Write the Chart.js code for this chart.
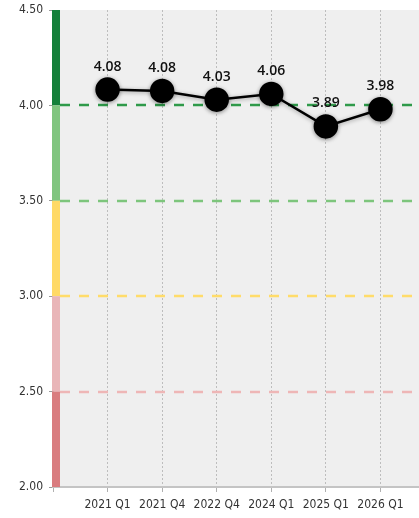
<!DOCTYPE html>
<html>
<head>
<meta charset="utf-8">
<script src="https://cdn.jsdelivr.net/npm/chart.js@4"></script>
<style>
  html, body { margin: 0; padding: 0; background: #fff; overflow: hidden; }
  #wrap { width: 442px; height: 518px; position: relative; }
</style>
</head>
<body>
<div id="wrap"><canvas id="chart"></canvas></div>
<script>
// Quarters and score values
const quarters = ['2021 Q1', '2021 Q4', '2022 Q4', '2024 Q1', '2025 Q1', '2026 Q1'];
const scores = [4.083, 4.076, 4.03, 4.06, 3.89, 3.98];

// y ticks
const yTicks = [2.0, 2.5, 3.0, 3.5, 4.0, 4.5];

// Rating bands: lower bound, upper bound, band colour, dashed line colour (drawn at upper bound)
const bandFrom = [4.0, 3.5, 3.0, 2.5, 2.0];
const bandTo = [4.5, 4.0, 3.5, 3.0, 2.5];
const bandColors = ['#14803a', '#80c57f', '#ffd966', '#e9b5b8', '#d97c7f'];
const lineAt = [4.0, 3.5, 3.0, 2.5];
const lineColors = ['#2f9a4a', '#7dc57c', '#ffdc6a', '#eeb6b6'];

const narrow = '"Liberation Sans Narrow", "DejaVu Sans Condensed", sans-serif';

// ─── Plugins ───

const plotBackground = {
  id: 'plotBackground',
  beforeDraw(chart) {
    const { ctx, chartArea: a } = chart;
    ctx.save();
    ctx.fillStyle = '#efefef';
    ctx.fillRect(a.left, a.top, a.right - a.left, a.bottom - a.top);
    ctx.restore();
  },
  beforeDatasetsDraw(chart) {
    const { ctx, chartArea: a, scales: { y } } = chart;
    ctx.save();
    // dashed threshold lines
    ctx.lineWidth = 2.5;
    ctx.setLineDash([10, 9]);
    lineAt.forEach((v, i) => {
      const py = Math.round(y.getPixelForValue(v));
      ctx.strokeStyle = lineColors[i];
      ctx.beginPath();
      ctx.moveTo(a.left + 7, py);
      ctx.lineTo(a.right, py);
      ctx.stroke();
    });
    ctx.setLineDash([]);
    // coloured band on the left edge
    bandFrom.forEach((v, i) => {
      const y0 = y.getPixelForValue(bandTo[i]);
      const y1 = y.getPixelForValue(v);
      ctx.fillStyle = bandColors[i];
      ctx.fillRect(a.left - 1, y0, 8, y1 - y0);
    });
    ctx.restore();
  },
  beforeDatasetDraw(chart) {
    const ctx = chart.ctx;
    ctx.save();
    ctx.shadowColor = 'rgba(0,0,0,0.35)';
    ctx.shadowBlur = 4;
    ctx.shadowOffsetY = 1;
  },
  afterDatasetDraw(chart) {
    chart.ctx.restore();
  },
  afterDatasetsDraw(chart) {
    const { ctx } = chart;
    const meta = chart.getDatasetMeta(0);
    ctx.save();
    ctx.fillStyle = '#111';
    ctx.font = '600 14px "Open Sans", "Liberation Sans", Arial, sans-serif';
    ctx.textAlign = 'center';
    ctx.textBaseline = 'alphabetic';
    meta.data.forEach((pt, i) => {
      const v = chart.data.datasets[0].data[i];
      if (v == null) return;
      ctx.fillText(v.toFixed(2), pt.x, pt.y - 19);
    });
    ctx.restore();
  },
};

new Chart(document.getElementById('chart'), {
  type: 'line',
  data: {
    labels: ['', ...quarters, ''],
    datasets: [{
      data: [null, ...scores, null],
      borderColor: '#000',
      borderWidth: 2.5,
      backgroundColor: '#000',
      pointBackgroundColor: '#000',
      pointBorderColor: '#000',
      pointRadius: 11,
      pointHoverRadius: 11,
      tension: 0,
      fill: false,
      clip: false,
    }],
  },
  options: {
    responsive: true,
    maintainAspectRatio: false,
    animation: false,
    layout: { autoPadding: false, padding: { top: 10, right: 7, left: 0, bottom: 0 } },
    plugins: { legend: { display: false }, tooltip: { enabled: false } },
    scales: {
      x: {
        offset: false,
        grid: {
          color: '#bdbdbd',
          lineWidth: 1,
          tickLength: 5,
          tickColor: '#b0b0b0',
          tickWidth: 1,
        },
        border: { display: true, color: '#c4c4c4', width: 2, dash: [2, 2] },
        ticks: {
          color: '#333',
          font: { family: narrow, size: 12 },
          padding: 6,
          maxRotation: 0,
          autoSkip: false,
        },
        afterFit: s => { s.height = 31; s.paddingLeft = 0; s.paddingRight = 0; },
      },
      y: {
        min: 2,
        max: 4.5,
        afterBuildTicks: s => { s.ticks = yTicks.map(v => ({ value: v })); },
        grid: {
          drawOnChartArea: false,
          tickLength: 4,
          tickColor: '#9a9a9a',
        },
        border: { display: false },
        ticks: {
          color: '#333',
          font: { family: narrow, size: 12 },
          padding: 6,
          callback: v => Number(v).toFixed(2),
        },
        afterFit: s => { s.width = 53; s.paddingTop = 0; s.paddingBottom = 0; },
      },
    },
  },
  plugins: [plotBackground],
});
</script>
</body>
</html>
